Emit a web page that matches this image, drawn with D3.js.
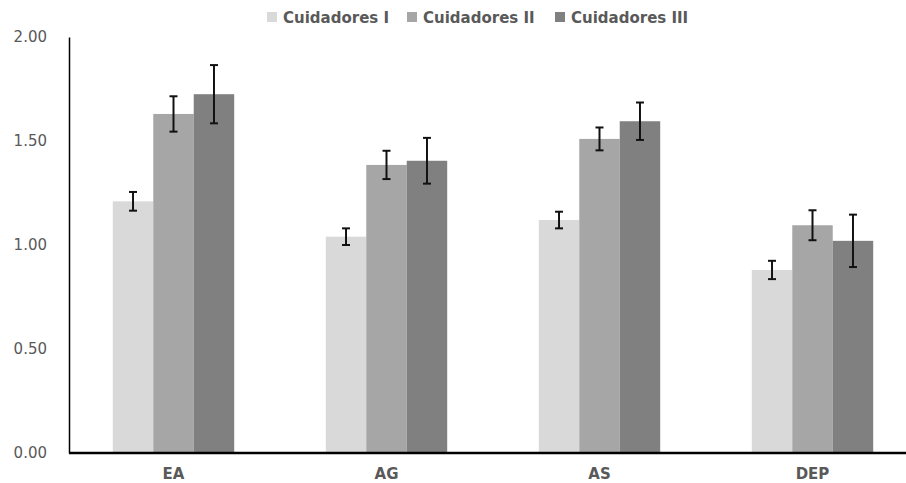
<!DOCTYPE html>
<html>
<head>
<meta charset="utf-8">
<script src="https://cdn.jsdelivr.net/npm/d3@7"></script>
<style>
  body { margin: 0; background: #fff; }
  svg { display: block; }
</style>
</head>
<body>
<div id="chart"></div>
<script>
// valores
let categorias = ["EA", "AG", "AS", "DEP"];
let grupos = ["Cuidadores I", "Cuidadores II", "Cuidadores III"];
let medias = {
     "Cuidadores I":   [1.21, 1.04, 1.12, 0.88],
     "Cuidadores II":  [1.63, 1.385, 1.51, 1.095],
     "Cuidadores III": [1.725, 1.405, 1.595, 1.02]
};
let errores = {
     "Cuidadores I":   [0.045, 0.04, 0.04, 0.044],
     "Cuidadores II":  [0.085, 0.068, 0.055, 0.072],
     "Cuidadores III": [0.14, 0.11, 0.09, 0.126]
};
let ticks = [0, 0.5, 1, 1.5, 2];

let width = 906;
let height = 483;
let margin = { top: 37, right: -13, bottom: 30, left: 69 };

let color = d3.scaleOrdinal()
     .domain(grupos)
     .range(["#d9d9d9", "#a6a6a6", "#808080"]);

let svg = d3.select("#chart").append("svg")
     .attr("width", width)
     .attr("height", height);

let x = d3.scaleBand()
     .domain(categorias)
     .range([margin.left - 2, width - margin.right])
     .paddingInner(0.43)
     .paddingOuter(0.215);

let xs = d3.scaleBand()
     .domain(grupos)
     .range([0, x.bandwidth()]);

let y = d3.scaleLinear()
     .domain([0, 2])
     .range([453, margin.top]);

// eje y
let yAxis = svg.append("g")
     .attr("transform", "translate(" + margin.left + ",0)")
     .call(d3.axisLeft(y).tickValues(ticks).tickSize(0).tickPadding(22)
          .tickFormat(d3.format(".2f")));
yAxis.select(".domain").attr("stroke", "#000").attr("stroke-width", 1.5);
yAxis.selectAll("text")
     .attr("fill", "#595959")
     .style("font-family", "DejaVu Sans")
     .style("font-size", "15px");

// barras
let datos = [];
grupos.forEach(function(g) {
     categorias.forEach(function(c, i) {
          datos.push({ grupo: g, cat: c, valor: medias[g][i], err: errores[g][i] });
     });
});

svg.selectAll(".bar")
     .data(datos)
     .enter().append("rect")
     .attr("class", "bar")
     .attr("x", function(d) { return x(d.cat) + xs(d.grupo); })
     .attr("y", function(d) { return y(d.valor); })
     .attr("width", xs.bandwidth())
     .attr("height", function(d) { return y(0) - y(d.valor); })
     .attr("fill", function(d) { return color(d.grupo); });

// barras de error
let eb = svg.selectAll(".err")
     .data(datos)
     .enter().append("g")
     .attr("class", "err")
     .attr("stroke", "#111")
     .attr("stroke-width", 2);

eb.append("line")
     .attr("x1", function(d) { return x(d.cat) + xs(d.grupo) + xs.bandwidth() / 2; })
     .attr("x2", function(d) { return x(d.cat) + xs(d.grupo) + xs.bandwidth() / 2; })
     .attr("y1", function(d) { return y(d.valor + d.err); })
     .attr("y2", function(d) { return y(d.valor - d.err); });

[1, -1].forEach(function(s) {
     eb.append("line")
          .attr("x1", function(d) { return x(d.cat) + xs(d.grupo) + xs.bandwidth() / 2 - 4; })
          .attr("x2", function(d) { return x(d.cat) + xs(d.grupo) + xs.bandwidth() / 2 + 4; })
          .attr("y1", function(d) { return y(d.valor + s * d.err); })
          .attr("y2", function(d) { return y(d.valor + s * d.err); });
});

// eje x
let xAxis = svg.append("g")
     .attr("transform", "translate(0," + y(0) + ")")
     .call(d3.axisBottom(x).tickSize(0).tickPadding(15));
xAxis.select(".domain").attr("stroke", "#000").attr("stroke-width", 2.5)
     .attr("d", "M" + margin.left + ",0H" + width);
xAxis.selectAll("text")
     .attr("fill", "#595959")
     .style("font-family", "DejaVu Sans")
     .style("font-weight", "bold")
     .style("font-size", "15px");

// leyenda
let legX = [267, 407, 555];
let leg = svg.selectAll(".leg")
     .data(grupos)
     .enter().append("g")
     .attr("class", "leg")
     .attr("transform", function(d, i) { return "translate(" + legX[i] + ",12)"; });
leg.append("rect")
     .attr("width", 10)
     .attr("height", 10)
     .attr("fill", function(d) { return color(d); });
leg.append("text")
     .attr("x", 16)
     .attr("y", 10.5)
     .attr("fill", "#595959")
     .style("font-family", "DejaVu Sans")
     .style("font-weight", "bold")
     .style("font-size", "15px")
     .text(function(d) { return d; });
</script>
</body>
</html>
